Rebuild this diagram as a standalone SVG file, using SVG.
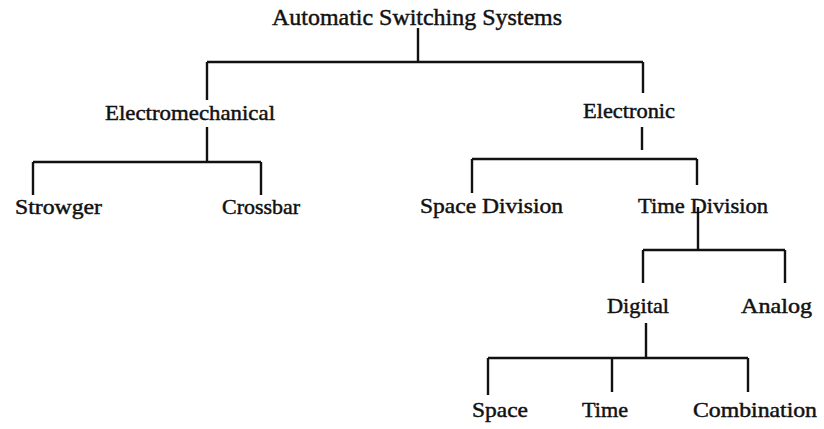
<svg xmlns="http://www.w3.org/2000/svg" width="824" height="429" viewBox="0 0 824 429">
<style>
text{font-family:"Liberation Serif","Times New Roman",serif;font-size:21px;fill:#111;stroke:#111;stroke-width:0.45;}
.t{font-size:23px;}
.c{fill:none;stroke:#111;stroke-width:2.4;stroke-linecap:butt;}
</style>
<rect width="824" height="429" fill="#fff"/>
<g id="connectors" class="c">
<path d="M418,28V62M207,62H643M207,62V100M643,62V93"/>
<path d="M207,127V162M33,162H261M33,162V195M261,162V195"/>
<path d="M642,127V150M472,159H697M472,159V193M697,159V185"/>
<path d="M698,207V250M643,250H785M643,250V283M785,250V283"/>
<path d="M646,323V358M488,358H748M488,358V395M612,358V392M748,358V392"/>
</g>
<g id="n-root"><text class="t" x="272" y="25" textLength="290" lengthAdjust="spacingAndGlyphs">Automatic Switching Systems</text></g>
<g id="n-electromechanical"><text x="105" y="120" textLength="170" lengthAdjust="spacingAndGlyphs">Electromechanical</text></g>
<g id="n-electronic"><text x="583" y="118" textLength="92" lengthAdjust="spacingAndGlyphs">Electronic</text></g>
<g id="n-strowger"><text x="15" y="214" textLength="87" lengthAdjust="spacingAndGlyphs">Strowger</text></g>
<g id="n-crossbar"><text x="222" y="214" textLength="78" lengthAdjust="spacingAndGlyphs">Crossbar</text></g>
<g id="n-space-division"><text x="420" y="213" textLength="143" lengthAdjust="spacingAndGlyphs">Space Division</text></g>
<g id="n-time-division"><text x="638" y="213" textLength="130" lengthAdjust="spacingAndGlyphs">Time Division</text></g>
<g id="n-digital"><text x="607" y="313" textLength="62" lengthAdjust="spacingAndGlyphs">Digital</text></g>
<g id="n-analog"><text x="741" y="313" textLength="71" lengthAdjust="spacingAndGlyphs">Analog</text></g>
<g id="n-space"><text x="472" y="417" textLength="56" lengthAdjust="spacingAndGlyphs">Space</text></g>
<g id="n-time"><text x="582" y="417" textLength="46" lengthAdjust="spacingAndGlyphs">Time</text></g>
<g id="n-combination"><text x="693" y="417" textLength="124" lengthAdjust="spacingAndGlyphs">Combination</text></g>
</svg>
